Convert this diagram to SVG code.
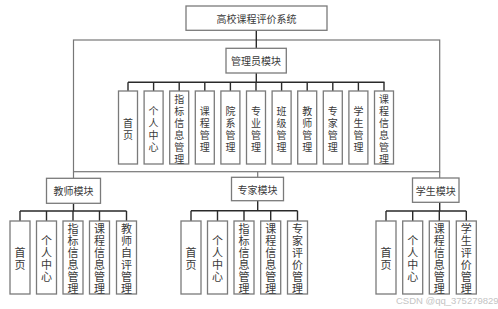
<svg xmlns="http://www.w3.org/2000/svg" width="498" height="309" viewBox="0 0 498 309">
<style>
.box{fill:#fff;stroke:#7a7a7a;stroke-width:1.3}
.ln{fill:none;stroke:#2a2a2a;stroke-width:1.4}
.fr{fill:none;stroke:#777;stroke-width:1.2}
.t{font-family:"Noto Sans CJK SC","Noto Sans",sans-serif;fill:#3a3a3a;text-anchor:middle;dominant-baseline:central}
.h{font-size:10px}
.v{font-size:10px}
.vb{font-size:11px}
.wm{font-family:"Liberation Sans",Arial,sans-serif;font-size:9.5px;fill:#c4c4c4}
</style>
<rect width="498" height="309" fill="#fff"/>
<g id="connectors">
<rect class="fr" x="73.5" y="40" width="366.2" height="131.7"/>
<path class="ln" d="M256.3 30V48.3M256.3 73V82.3M128 82.3H384.5"/>
<path class="ln" d="M128 82.3V91M153.6 82.3V91M179.2 82.3V91M204.8 82.3V91M230.4 82.3V91M256 82.3V91M281.6 82.3V91M307.2 82.3V91M332.8 82.3V91M358.4 82.3V91M384 82.3V91"/>
<path class="fr" d="M73.5 171.7V178.3M257.7 171.7V177.3M439.7 171.7V178"/>
<path class="ln" d="M73.5 203.3V211M20 211H126.5M20 211V221M46.5 211V221M73 211V221M99.5 211V221M126.5 211V221"/>
<path class="ln" d="M257.7 200.7V210.7M191 210.7H297.5M191 210.7V221M217.5 210.7V221M244 210.7V221M270.7 210.7V221M297.5 210.7V221"/>
<path class="ln" d="M439.7 202.3V211M386 211H466.3M386 211V221M412.7 211V221M439.3 211V221M466.3 211V221"/>
</g>
<g id="root">
<rect class="box" x="186" y="6" width="141" height="24.3"/>
<text class="t h" x="256.5" y="18.2">高校课程评价系统</text>
</g>
<g id="admin">
<rect class="box" x="226" y="48.3" width="60.3" height="24.7"/>
<text class="t h" x="256" y="60.7">管理员模块</text>
</g>
<g id="admin-children">
<g id="a1"><rect class="box" x="118.5" y="91" width="19" height="73"/><text class="t v" x="128"><tspan x="128" y="121.5">首</tspan><tspan x="128" y="133.5">页</tspan></text></g>
<g id="a2"><rect class="box" x="144.1" y="91" width="19" height="73"/><text class="t v"><tspan x="153.6" y="109.5">个</tspan><tspan x="153.6" y="121.5">人</tspan><tspan x="153.6" y="133.5">中</tspan><tspan x="153.6" y="145.5">心</tspan></text></g>
<g id="a3"><rect class="box" x="169.7" y="91" width="19" height="73"/><text class="t v"><tspan x="179.2" y="97.5">指</tspan><tspan x="179.2" y="109.5">标</tspan><tspan x="179.2" y="121.5">信</tspan><tspan x="179.2" y="133.5">息</tspan><tspan x="179.2" y="145.5">管</tspan><tspan x="179.2" y="157.5">理</tspan></text></g>
<g id="a4"><rect class="box" x="195.3" y="91" width="19" height="73"/><text class="t v"><tspan x="204.8" y="109.5">课</tspan><tspan x="204.8" y="121.5">程</tspan><tspan x="204.8" y="133.5">管</tspan><tspan x="204.8" y="145.5">理</tspan></text></g>
<g id="a5"><rect class="box" x="220.9" y="91" width="19" height="73"/><text class="t v"><tspan x="230.4" y="109.5">院</tspan><tspan x="230.4" y="121.5">系</tspan><tspan x="230.4" y="133.5">管</tspan><tspan x="230.4" y="145.5">理</tspan></text></g>
<g id="a6"><rect class="box" x="246.5" y="91" width="19" height="73"/><text class="t v"><tspan x="256" y="109.5">专</tspan><tspan x="256" y="121.5">业</tspan><tspan x="256" y="133.5">管</tspan><tspan x="256" y="145.5">理</tspan></text></g>
<g id="a7"><rect class="box" x="272.1" y="91" width="19" height="73"/><text class="t v"><tspan x="281.6" y="109.5">班</tspan><tspan x="281.6" y="121.5">级</tspan><tspan x="281.6" y="133.5">管</tspan><tspan x="281.6" y="145.5">理</tspan></text></g>
<g id="a8"><rect class="box" x="297.7" y="91" width="19" height="73"/><text class="t v"><tspan x="307.2" y="109.5">教</tspan><tspan x="307.2" y="121.5">师</tspan><tspan x="307.2" y="133.5">管</tspan><tspan x="307.2" y="145.5">理</tspan></text></g>
<g id="a9"><rect class="box" x="323.3" y="91" width="19" height="73"/><text class="t v"><tspan x="332.8" y="109.5">专</tspan><tspan x="332.8" y="121.5">家</tspan><tspan x="332.8" y="133.5">管</tspan><tspan x="332.8" y="145.5">理</tspan></text></g>
<g id="a10"><rect class="box" x="348.9" y="91" width="19" height="73"/><text class="t v"><tspan x="358.4" y="109.5">学</tspan><tspan x="358.4" y="121.5">生</tspan><tspan x="358.4" y="133.5">管</tspan><tspan x="358.4" y="145.5">理</tspan></text></g>
<g id="a11"><rect class="box" x="374.5" y="91" width="19" height="73"/><text class="t v"><tspan x="384" y="97.5">课</tspan><tspan x="384" y="109.5">程</tspan><tspan x="384" y="121.5">信</tspan><tspan x="384" y="133.5">息</tspan><tspan x="384" y="145.5">管</tspan><tspan x="384" y="157.5">理</tspan></text></g>
</g>
<g id="teacher">
<rect class="box" x="46.5" y="178.3" width="54" height="25"/>
<text class="t h" x="73.5" y="190.8">教师模块</text>
</g>
<g id="teacher-children">
<g id="t1"><rect class="box" x="10" y="221" width="20" height="73"/><text class="t vb"><tspan x="20" y="251.5">首</tspan><tspan x="20" y="263.5">页</tspan></text></g>
<g id="t2"><rect class="box" x="36.5" y="221" width="20" height="73"/><text class="t vb"><tspan x="46.5" y="239.5">个</tspan><tspan x="46.5" y="251.5">人</tspan><tspan x="46.5" y="263.5">中</tspan><tspan x="46.5" y="275.5">心</tspan></text></g>
<g id="t3"><rect class="box" x="63" y="221" width="20" height="73"/><text class="t vb"><tspan x="73" y="227.5">指</tspan><tspan x="73" y="239.5">标</tspan><tspan x="73" y="251.5">信</tspan><tspan x="73" y="263.5">息</tspan><tspan x="73" y="275.5">管</tspan><tspan x="73" y="287.5">理</tspan></text></g>
<g id="t4"><rect class="box" x="89.5" y="221" width="20" height="73"/><text class="t vb"><tspan x="99.5" y="227.5">课</tspan><tspan x="99.5" y="239.5">程</tspan><tspan x="99.5" y="251.5">信</tspan><tspan x="99.5" y="263.5">息</tspan><tspan x="99.5" y="275.5">管</tspan><tspan x="99.5" y="287.5">理</tspan></text></g>
<g id="t5"><rect class="box" x="116.5" y="221" width="20" height="73"/><text class="t vb"><tspan x="126.5" y="227.5">教</tspan><tspan x="126.5" y="239.5">师</tspan><tspan x="126.5" y="251.5">自</tspan><tspan x="126.5" y="263.5">评</tspan><tspan x="126.5" y="275.5">管</tspan><tspan x="126.5" y="287.5">理</tspan></text></g>
</g>
<g id="expert">
<rect class="box" x="231.5" y="177.3" width="52" height="23.4"/>
<text class="t h" x="257.5" y="189">专家模块</text>
</g>
<g id="expert-children">
<g id="e1"><rect class="box" x="181" y="221" width="20" height="73"/><text class="t vb"><tspan x="191" y="251.5">首</tspan><tspan x="191" y="263.5">页</tspan></text></g>
<g id="e2"><rect class="box" x="207.5" y="221" width="20" height="73"/><text class="t vb"><tspan x="217.5" y="239.5">个</tspan><tspan x="217.5" y="251.5">人</tspan><tspan x="217.5" y="263.5">中</tspan><tspan x="217.5" y="275.5">心</tspan></text></g>
<g id="e3"><rect class="box" x="234" y="221" width="20" height="73"/><text class="t vb"><tspan x="244" y="227.5">指</tspan><tspan x="244" y="239.5">标</tspan><tspan x="244" y="251.5">信</tspan><tspan x="244" y="263.5">息</tspan><tspan x="244" y="275.5">管</tspan><tspan x="244" y="287.5">理</tspan></text></g>
<g id="e4"><rect class="box" x="260.7" y="221" width="20" height="73"/><text class="t vb"><tspan x="270.7" y="227.5">课</tspan><tspan x="270.7" y="239.5">程</tspan><tspan x="270.7" y="251.5">信</tspan><tspan x="270.7" y="263.5">息</tspan><tspan x="270.7" y="275.5">管</tspan><tspan x="270.7" y="287.5">理</tspan></text></g>
<g id="e5"><rect class="box" x="287.5" y="221" width="20" height="73"/><text class="t vb"><tspan x="297.5" y="227.5">专</tspan><tspan x="297.5" y="239.5">家</tspan><tspan x="297.5" y="251.5">评</tspan><tspan x="297.5" y="263.5">价</tspan><tspan x="297.5" y="275.5">管</tspan><tspan x="297.5" y="287.5">理</tspan></text></g>
</g>
<g id="student">
<rect class="box" x="412.5" y="178" width="46.5" height="24.3"/>
<text class="t h" x="435.8" y="190.2">学生模块</text>
</g>
<g id="student-children">
<g id="s1"><rect class="box" x="376" y="221" width="20" height="73"/><text class="t vb"><tspan x="386" y="251.5">首</tspan><tspan x="386" y="263.5">页</tspan></text></g>
<g id="s2"><rect class="box" x="402.7" y="221" width="20" height="73"/><text class="t vb"><tspan x="412.7" y="239.5">个</tspan><tspan x="412.7" y="251.5">人</tspan><tspan x="412.7" y="263.5">中</tspan><tspan x="412.7" y="275.5">心</tspan></text></g>
<g id="s3"><rect class="box" x="429.3" y="221" width="20" height="73"/><text class="t vb"><tspan x="439.3" y="227.5">课</tspan><tspan x="439.3" y="239.5">程</tspan><tspan x="439.3" y="251.5">信</tspan><tspan x="439.3" y="263.5">息</tspan><tspan x="439.3" y="275.5">管</tspan><tspan x="439.3" y="287.5">理</tspan></text></g>
<g id="s4"><rect class="box" x="456.3" y="221" width="20" height="73"/><text class="t vb"><tspan x="466.3" y="227.5">学</tspan><tspan x="466.3" y="239.5">生</tspan><tspan x="466.3" y="251.5">评</tspan><tspan x="466.3" y="263.5">价</tspan><tspan x="466.3" y="275.5">管</tspan><tspan x="466.3" y="287.5">理</tspan></text></g>
</g>
<text class="wm" x="396" y="303.5">CSDN @qq_375279829</text>
</svg>
